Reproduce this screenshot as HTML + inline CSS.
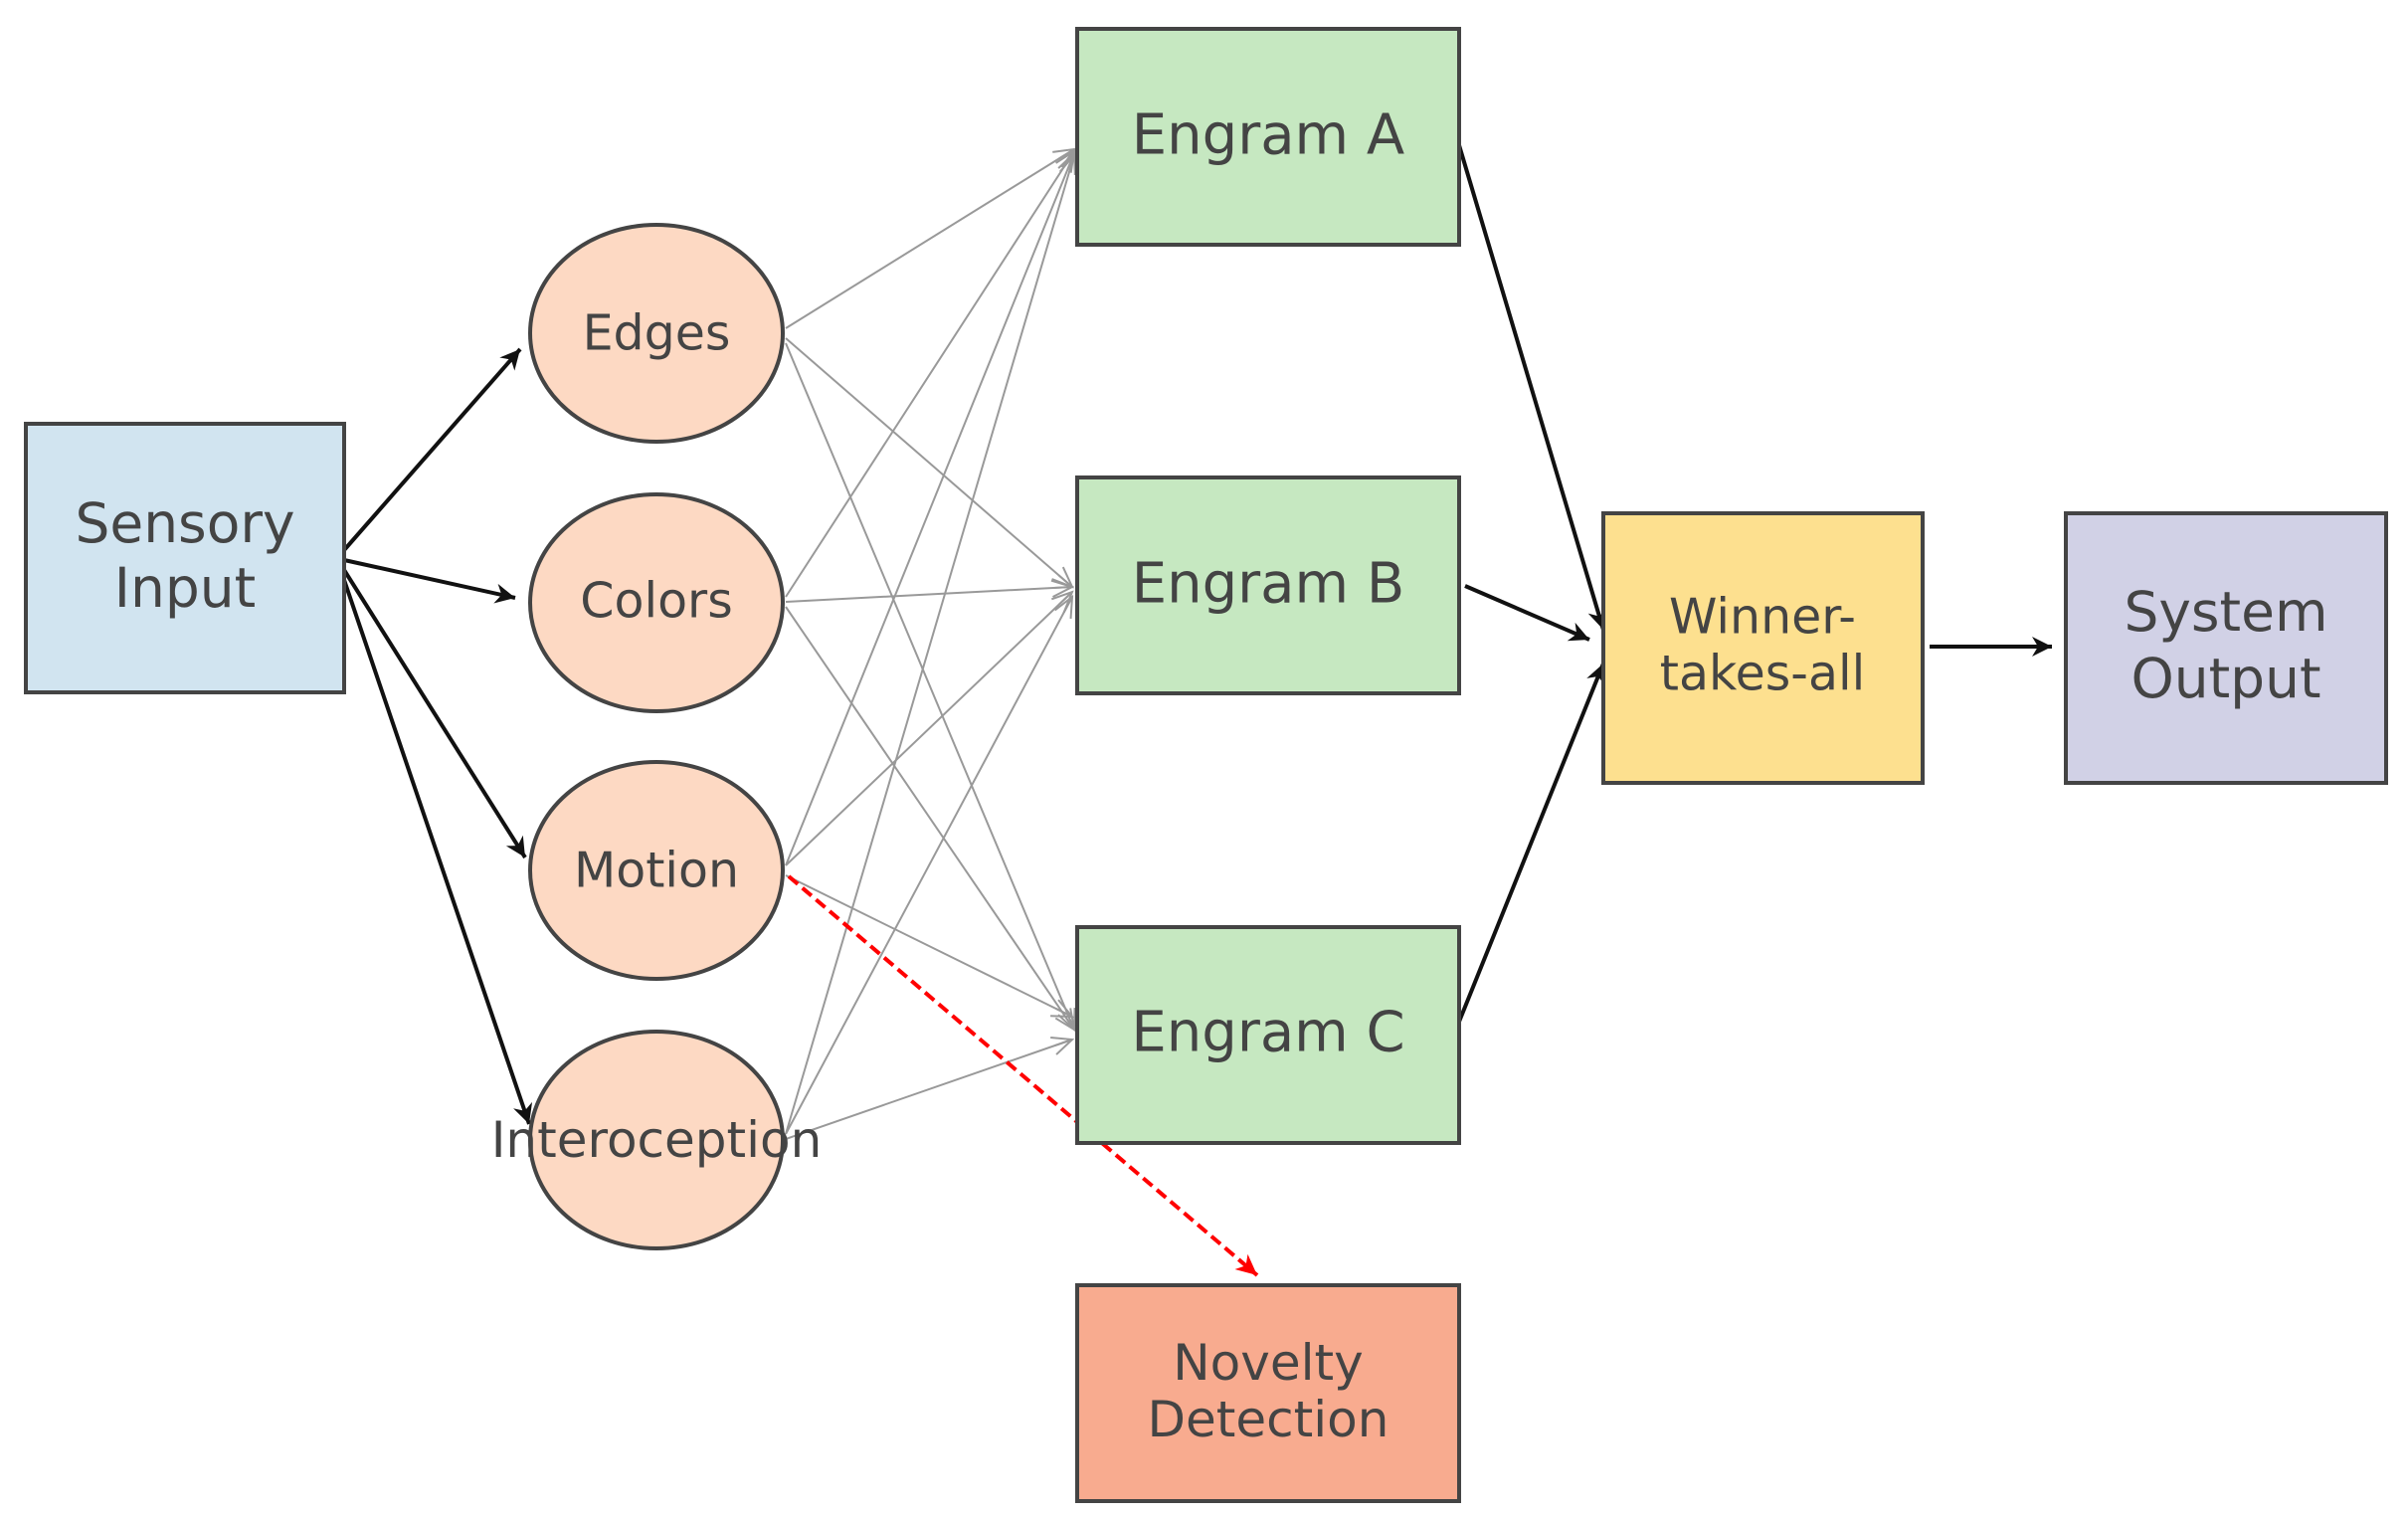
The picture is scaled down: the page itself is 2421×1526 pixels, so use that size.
<!DOCTYPE html>
<html><head><meta charset="utf-8"><style>
html,body{margin:0;padding:0;background:#fff}
svg{display:block}
text{font-family:"DejaVu Sans","Liberation Sans",sans-serif;fill:#444;text-anchor:middle;dominant-baseline:central}
</style></head><body>
<svg width="2421" height="1526" viewBox="0 0 2421 1526" xmlns="http://www.w3.org/2000/svg">
<defs>
<marker id="ab" markerWidth="10" markerHeight="10" refX="9" refY="5" orient="auto" markerUnits="userSpaceOnUse" viewBox="0 0 10 10"><path d="M0,0 L10,5 L0,10 M10,5 L0,5" fill="none" stroke="#111" stroke-width="2"/></marker>
<marker id="abk" markerWidth="28" markerHeight="28" refX="26" refY="14" orient="auto" markerUnits="userSpaceOnUse"><path d="M6,4 L26,14 L6,24 L12,14 Z" fill="#111"/></marker>
<marker id="agr" markerWidth="28" markerHeight="28" refX="26" refY="14" orient="auto" markerUnits="userSpaceOnUse"><path d="M6,5 L26,14 L6,23 M26,14 L8,14" fill="none" stroke="#999" stroke-width="2"/></marker>
<marker id="ard" markerWidth="30" markerHeight="30" refX="27" refY="15" orient="auto" markerUnits="userSpaceOnUse"><path d="M6,5 L27,15 L6,25 L12,15 Z" fill="#f00"/></marker>
</defs>
<g stroke="#999" stroke-width="2" fill="none" marker-end="url(#agr)">
<path d="M790,330 L1080,150"/><path d="M790,340 L1078,590"/><path d="M790,345 L1080,1035"/>
<path d="M790,600 L1080,152"/><path d="M790,605 L1078,590"/><path d="M790,610 L1080,1035"/>
<path d="M790,870 L1080,154"/><path d="M790,870 L1078,595"/><path d="M790,880 L1078,1022"/>
<path d="M790,1140 L1080,156"/><path d="M790,1140 L1078,600"/><path d="M790,1145 L1078,1045"/>
</g>
<g stroke="#111" stroke-width="4" fill="none" marker-end="url(#abk)">
<path d="M346,553 L523,351"/><path d="M346,563 L518,601"/><path d="M346,573 L528,862"/><path d="M346,583 L532,1130"/>
<path d="M1467,146 L1612,633"/><path d="M1473,589 L1598,643"/><path d="M1467,1027 L1612,667"/><path d="M1940,650 L2063,650"/>
</g>
<path d="M793,881 L1264,1282" stroke="#f00" stroke-width="4" stroke-dasharray="12,6" fill="none" marker-end="url(#ard)"/>
<g stroke="#444" stroke-width="4">
<rect x="26" y="426" width="320" height="270" fill="#d1e4f0"/>
<ellipse cx="660" cy="335" rx="127" ry="109" fill="#fdd9c3"/>
<ellipse cx="660" cy="606" rx="127" ry="109" fill="#fdd9c3"/>
<ellipse cx="660" cy="875" rx="127" ry="109" fill="#fdd9c3"/>
<ellipse cx="660" cy="1146" rx="127" ry="109" fill="#fdd9c3"/>
<rect x="1083" y="29" width="384" height="217" fill="#c6e8c1"/>
<rect x="1083" y="480" width="384" height="217" fill="#c6e8c1"/>
<rect x="1083" y="932" width="384" height="217" fill="#c6e8c1"/>
<rect x="1083" y="1292" width="384" height="217" fill="#f8ab8f"/>
<rect x="1612" y="516" width="321" height="271" fill="#fde08f"/>
<rect x="2077" y="516" width="322" height="271" fill="#d1d1e6"/>
</g>
<text x="186" y="526" font-size="55">Sensory</text>
<text x="186" y="591" font-size="55">Input</text>
<text x="660" y="335" font-size="49">Edges</text>
<text x="660" y="604" font-size="49">Colors</text>
<text x="660" y="875" font-size="49">Motion</text>
<text x="660" y="1146" font-size="50">Interoception</text>
<text x="1275" y="136" font-size="56">Engram A</text>
<text x="1275" y="587" font-size="56">Engram B</text>
<text x="1275" y="1038" font-size="56">Engram C</text>
<text x="1275" y="1370" font-size="50">Novelty</text>
<text x="1275" y="1427" font-size="50">Detection</text>
<text x="1772" y="620" font-size="49">Winner-</text>
<text x="1772" y="677" font-size="49">takes-all</text>
<text x="2238" y="615" font-size="55">System</text>
<text x="2238" y="682" font-size="55">Output</text>
</svg>
</body></html>
